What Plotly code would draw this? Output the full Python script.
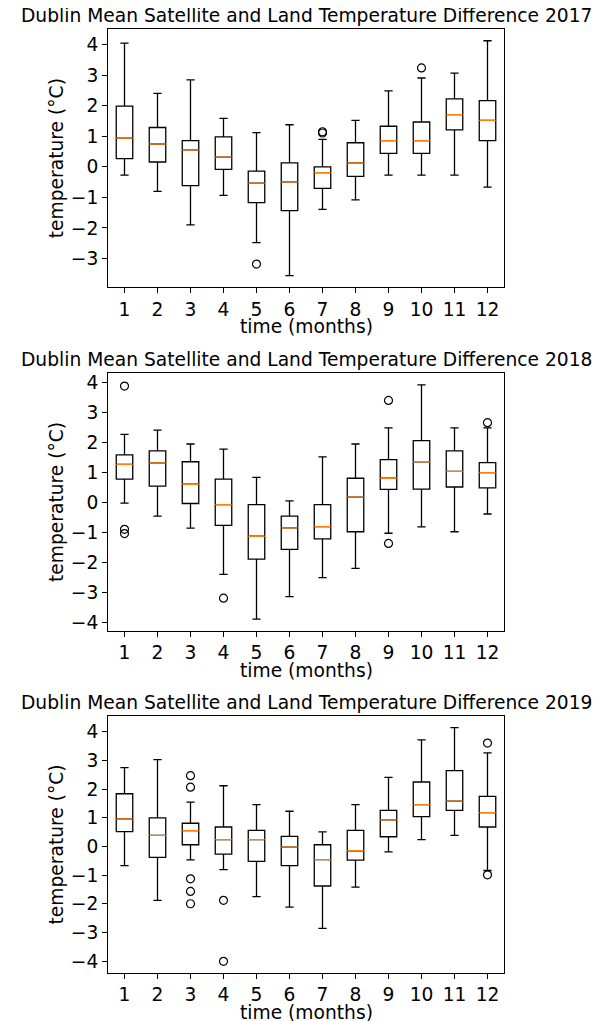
import plotly.graph_objects as go

months = list(range(1, 13))

# 2017
q1_2017 = [0.27, 0.16, -0.61, -0.08, -1.17, -1.43, -0.70, -0.31, 0.44, 0.44, 1.21, 0.86]
med_2017 = [0.94, 0.75, 0.56, 0.32, -0.53, -0.49, -0.19, 0.13, 0.86, 0.86, 1.71, 1.52]
q3_2017 = [1.99, 1.29, 0.86, 0.98, -0.14, 0.13, 0.00, 0.79, 1.33, 1.47, 2.23, 2.17]
lo_2017 = [-0.27, -0.80, -1.90, -0.93, -2.48, -3.56, -1.39, -1.08, -0.27, -0.27, -0.27, -0.66]
hi_2017 = [4.05, 2.41, 2.85, 1.59, 1.12, 1.38, 0.90, 1.52, 2.49, 2.91, 3.07, 4.13]
out_x_2017 = [5, 7, 7, 10]
out_y_2017 = [-3.18, 1.15, 1.11, 3.24]

# 2018
q1_2018 = [0.78, 0.55, -0.03, -0.76, -1.88, -1.56, -1.21, -0.97, 0.44, 0.45, 0.52, 0.49]
med_2018 = [1.27, 1.32, 0.61, -0.07, -1.12, -0.84, -0.80, 0.18, 0.81, 1.36, 1.04, 1.00]
q3_2018 = [1.59, 1.72, 1.36, 0.78, -0.07, -0.45, -0.07, 0.81, 1.43, 2.06, 1.72, 1.33]
lo_2018 = [-0.02, -0.45, -0.85, -2.39, -3.88, -3.13, -2.50, -2.19, -1.02, -0.81, -0.97, -0.38]
hi_2018 = [2.27, 2.41, 1.95, 1.78, 0.84, 0.06, 1.52, 1.95, 2.49, 3.92, 2.49, 2.49]
out_x_2018 = [1, 1, 1, 4, 9, 9, 12]
out_y_2018 = [3.88, -0.89, -1.03, -3.18, 3.40, -1.36, 2.66]

# 2019
q1_2019 = [0.52, -0.38, 0.06, -0.27, -0.52, -0.67, -1.38, -0.48, 0.34, 1.04, 1.26, 0.68]
med_2019 = [0.96, 0.39, 0.55, 0.24, 0.24, -0.02, -0.46, -0.15, 0.93, 1.46, 1.58, 1.18]
q3_2019 = [1.84, 1.00, 0.81, 0.68, 0.56, 0.35, 0.06, 0.56, 1.26, 2.25, 2.65, 1.75]
lo_2019 = [-0.67, -1.88, -0.47, -0.81, -1.75, -2.12, -2.86, -1.42, -0.19, 0.24, 0.39, -0.84]
hi_2019 = [2.75, 3.03, 1.55, 2.12, 1.46, 1.23, 0.51, 1.46, 2.41, 3.72, 4.15, 3.27]
out_x_2019 = [3, 3, 3, 3, 3, 4, 4, 12, 12]
out_y_2019 = [2.47, 2.07, -1.13, -1.57, -2.00, -1.88, -4.01, 3.61, -0.99]

years = ["2017", "2018", "2019"]
title_text = "Dublin Mean Satellite and Land Temperature Difference "

datasets = [
    (q1_2017, med_2017, q3_2017, lo_2017, hi_2017, out_x_2017, out_y_2017),
    (q1_2018, med_2018, q3_2018, lo_2018, hi_2018, out_x_2018, out_y_2018),
    (q1_2019, med_2019, q3_2019, lo_2019, hi_2019, out_x_2019, out_y_2019),
]

# The page body has an 8px margin, so the figure is laid out 8px smaller
OFF = 8
W, H = 608 - OFF, 1021 - OFF
ML, MR, MT = 108 - OFF, 104, 29 - OFF
MB = H - (972.7 - OFF)
PH = H - MT - MB
# pixel (top, bottom) of each axes box, in page coordinates
boxes_px = [(29, 287.3), (373, 630.7), (715.7, 972.7)]


def py2paper(py):
    return (H - MB - (py - OFF)) / PH


FONT = "DejaVu Sans"
FS = 18.67
ORANGE = "#ff7f0e"

fig = go.Figure()
annotations = []
for i, (q1, med, q3, lo, hi, ox, oy) in enumerate(datasets):
    n = i + 1
    xa = "x" if n == 1 else f"x{n}"
    ya = "y" if n == 1 else f"y{n}"
    fig.add_trace(go.Box(
        x=months, q1=q1, median=med, q3=q3, lowerfence=lo, upperfence=hi,
        width=0.5, whiskerwidth=0.5, boxpoints=False,
        line=dict(color="black", width=1.3), fillcolor="rgba(0,0,0,0)",
        xaxis=xa, yaxis=ya, showlegend=False, hoverinfo="skip",
    ))
    # median lines (orange), drawn as degenerate boxes at the median value
    fig.add_trace(go.Box(
        x=months, q1=med, median=med, q3=med, lowerfence=med, upperfence=med,
        width=0.5, whiskerwidth=0.0, boxpoints=False,
        line=dict(color=ORANGE, width=1.3), fillcolor="rgba(0,0,0,0)",
        xaxis=xa, yaxis=ya, showlegend=False, hoverinfo="skip",
    ))
    fig.add_trace(go.Scatter(
        x=ox, y=oy, mode="markers",
        marker=dict(symbol="circle-open", size=8, color="black", line=dict(width=1.2)),
        xaxis=xa, yaxis=ya, showlegend=False, hoverinfo="skip",
    ))

    top, bot = boxes_px[i]
    dom = [py2paper(bot), py2paper(top)]
    vals = lo + hi + oy
    vmin, vmax = min(vals), max(vals)
    pad = 0.05 * (vmax - vmin)
    axis_common = dict(
        showline=True, mirror=True, linecolor="black", linewidth=1,
        ticks="outside", ticklen=5, tickwidth=1, tickcolor="black",
        showgrid=False, zeroline=False, automargin=False,
        tickfont=dict(family=FONT, size=FS, color="black"),
    )
    fig.update_layout(**{
        ("xaxis" if n == 1 else f"xaxis{n}"): dict(
            domain=[0, 1], anchor=ya, range=[0.5, 12.5],
            tickmode="array", tickvals=months, ticktext=[str(m) for m in months],
            **axis_common),
        ("yaxis" if n == 1 else f"yaxis{n}"): dict(
            domain=dom, anchor=xa, range=[vmin - pad, vmax + pad],
            dtick=1, tick0=0, **axis_common),
    })
    annotations.append(dict(
        text=title_text + years[i], xref="paper", yref="paper",
        x=0.5, y=py2paper(top - 13.5), xanchor="center", yanchor="middle",
        showarrow=False, font=dict(family=FONT, size=FS, color="black")))
    annotations.append(dict(
        text="time (months)", xref="paper", yref="paper",
        x=0.5, y=py2paper(bot + 39.5), xanchor="center", yanchor="middle",
        showarrow=False, font=dict(family=FONT, size=FS, color="black")))
    annotations.append(dict(
        text="temperature (°C)", xref="paper", yref="paper",
        x=(56 - 108) / (W - ML - MR), y=py2paper((top + bot) / 2),
        xanchor="center", yanchor="middle", textangle=-90,
        showarrow=False, font=dict(family=FONT, size=FS, color="black")))

fig.update_layout(
    width=W, height=H,
    margin=dict(l=ML, r=MR, t=MT, b=MB),
    paper_bgcolor="white", plot_bgcolor="white",
    annotations=annotations,
    font=dict(family=FONT, size=FS, color="black"),
)

fig.write_html("out.html")
